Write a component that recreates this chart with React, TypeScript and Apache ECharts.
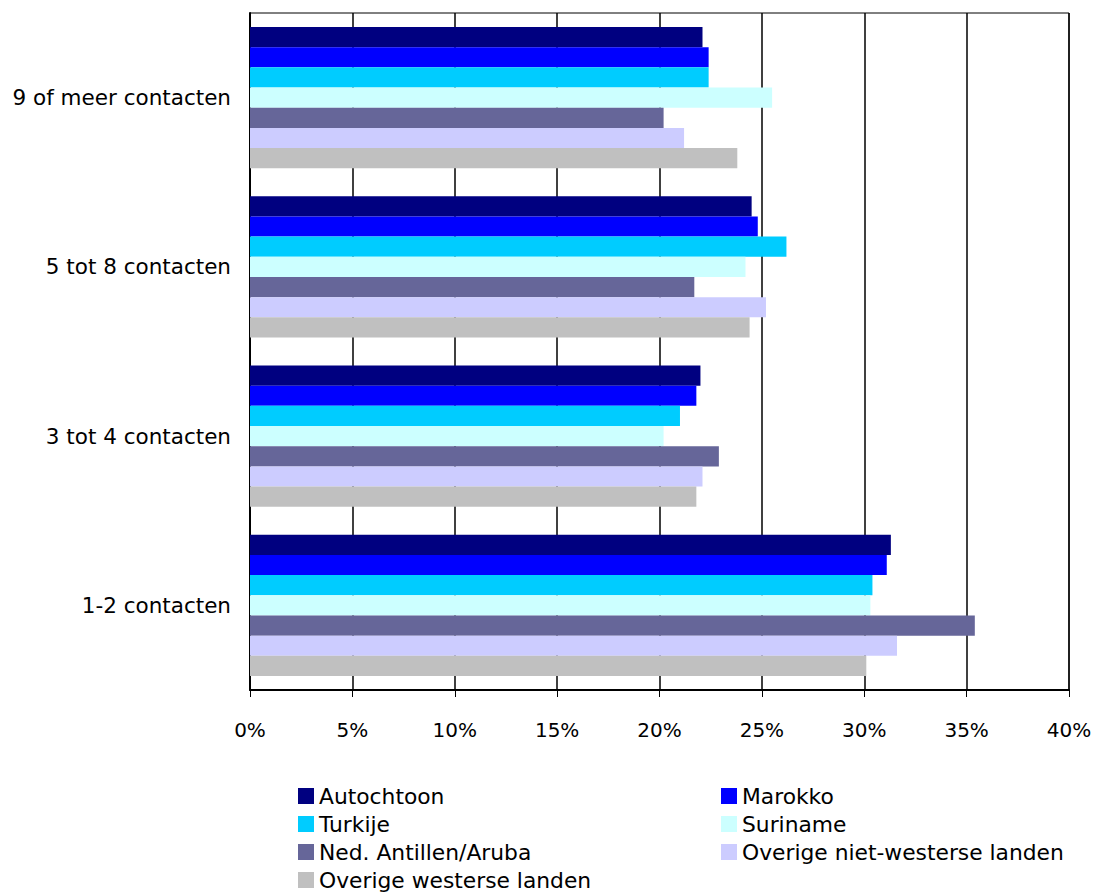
import React, { useEffect, useRef } from "react";
import * as echarts from "echarts";

const categories = ["1-2 contacten", "3 tot 4 contacten", "5 tot 8 contacten", "9 of meer contacten"];
const seriesNames = [
  "Autochtoon",
  "Marokko",
  "Turkije",
  "Suriname",
  "Ned. Antillen/Aruba",
  "Overige niet-westerse landen",
  "Overige westerse landen",
];
const autochtoon = [31.3, 22.0, 24.5, 22.1];
const marokko = [31.1, 21.8, 24.8, 22.4];
const turkije = [30.4, 21.0, 26.2, 22.4];
const suriname = [30.3, 20.2, 24.2, 25.5];
const nedAntillen = [35.4, 22.9, 21.7, 20.2];
const overigeNietWesters = [31.6, 22.1, 25.2, 21.2];
const overigeWesters = [30.1, 21.8, 24.4, 23.8];
const seriesValues = [autochtoon, marokko, turkije, suriname, nedAntillen, overigeNietWesters, overigeWesters];
const colors = ["#000080", "#0000FF", "#00CCFF", "#CCFFFF", "#666699", "#CCCCFF", "#C0C0C0"];

const FONT = "'DejaVu Sans', Verdana, sans-serif";

export default function App() {
  const ref = useRef<HTMLDivElement>(null);
  useEffect(() => {
    if (!ref.current) return;
    const chart = echarts.init(ref.current, null, { renderer: "svg" });
    const legendText = { color: "#000", fontSize: 21.8, fontFamily: FONT };
    chart.setOption({
      animation: false,
      backgroundColor: "#fff",
      color: colors,
      grid: {
        left: 250,
        right: 27,
        top: 13,
        bottom: 203,
        show: true,
        borderColor: "#000",
        borderWidth: 1,
        containLabel: false,
      },
      legend: [
        {
          orient: "vertical",
          left: 298,
          top: 785,
          padding: 0,
          height: 108,
          itemWidth: 16,
          itemHeight: 16,
          itemGap: 6,
          icon: "rect",
          textStyle: legendText,
          data: [seriesNames[0], seriesNames[2], seriesNames[4], seriesNames[6]],
        },
        {
          orient: "vertical",
          left: 721,
          top: 785,
          padding: 0,
          height: 108,
          itemWidth: 16,
          itemHeight: 16,
          itemGap: 6,
          icon: "rect",
          textStyle: legendText,
          data: [seriesNames[1], seriesNames[3], seriesNames[5]],
        },
      ],
      xAxis: {
        type: "value",
        min: 0,
        max: 40,
        interval: 5,
        axisLine: { show: true, lineStyle: { color: "#000", width: 2 } },
        axisTick: { show: true, length: 7, lineStyle: { color: "#000" } },
        splitLine: { show: true, lineStyle: { color: "#000", width: 1.5 } },
        axisLabel: {
          formatter: "{value}%",
          color: "#000",
          fontSize: 20,
          fontFamily: FONT,
          margin: 30,
        },
      },
      yAxis: {
        type: "category",
        data: categories,
        axisLine: { show: true, lineStyle: { color: "#000", width: 2 } },
        axisTick: { show: false },
        axisLabel: { color: "#000", fontSize: 21.5, fontFamily: FONT, margin: 19 },
      },
      series: seriesNames.map((name, i) => ({
        name,
        type: "bar",
        data: seriesValues[i],
        barGap: "0%",
        barCategoryGap: "16.5%",
        itemStyle: { color: colors[i] },
      })),
    });
    return () => chart.dispose();
  }, []);
  return (
    <div
      ref={ref}
      style={{ position: "absolute", left: 0, top: 0, width: 1096, height: 893 }}
    />
  );
}
